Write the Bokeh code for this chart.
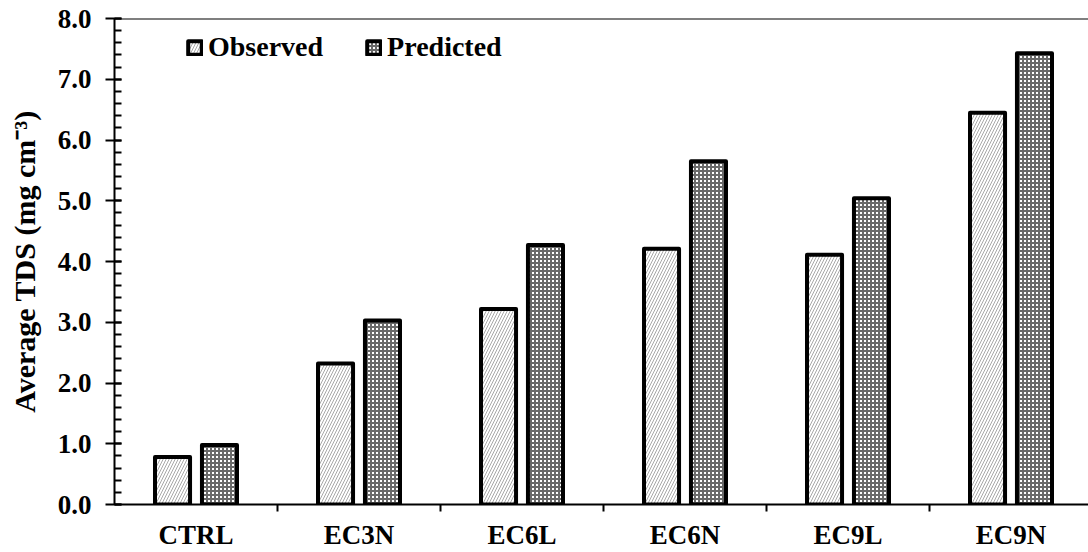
from bokeh.plotting import figure
from bokeh.models import (ColumnDataSource, FixedTicker, PrintfTickFormatter, Span,
                          Legend, LegendItem, Range1d)
from bokeh.embed import file_html
from bokeh.resources import INLINE

categories = ["CTRL", "EC3N", "EC6L", "EC6N", "EC9L", "EC9N"]
observed = [0.78, 2.32, 3.22, 4.21, 4.11, 6.45]
predicted = [0.98, 3.03, 4.27, 5.65, 5.04, 7.43]
y_ticks = [0, 1, 2, 3, 4, 5, 6, 7, 8]

FONT = "Liberation Serif"
centers = [i + 0.5 for i in range(len(categories))]
off = 0.144
bw = 0.215

src = ColumnDataSource(dict(
    xo=[c - off for c in centers], xp=[c + off for c in centers],
    obs=observed, pred=predicted))

p = figure(frame_width=974, frame_height=486, output_backend="svg", toolbar_location=None,
           x_range=Range1d(0, 974 / 163.0), y_range=Range1d(0, 8),
           min_border_left=114, min_border_top=18, min_border_right=0, min_border_bottom=44)
p.outline_line_color = None
p.xgrid.visible = False
p.ygrid.visible = False
p.background_fill_color = "white"

ro = p.vbar(x="xo", top="obs", width=bw, source=src, fill_color="white",
            hatch_pattern="/", hatch_color="#a8a8a8", hatch_scale=6, hatch_weight=1,
            line_color="black", line_width=4, line_join="round")
rp = p.vbar(x="xp", top="pred", width=bw, source=src, fill_color="white",
            hatch_pattern="+", hatch_color="#6a6a6a", hatch_scale=4, hatch_weight=2,
            line_color="black", line_width=4, line_join="round")

# top line
p.add_layout(Span(location=8, dimension="width", line_color="black", line_width=2))

# y axis
ya = p.yaxis[0]
ya.ticker = FixedTicker(ticks=y_ticks, minor_ticks=[i * 0.2 for i in range(41)])
ya.formatter = PrintfTickFormatter(format="%.1f")
ya.axis_line_width = 2
ya.major_tick_line_width = 2
ya.minor_tick_line_width = 2
ya.major_tick_out = 9
ya.major_tick_in = 7
ya.minor_tick_out = 0
ya.minor_tick_in = 7
ya.major_label_standoff = 14
ya.major_label_text_font = FONT
ya.major_label_text_font_style = "bold"
ya.major_label_text_font_size = "27px"
ya.major_label_text_color = "black"
ya.axis_label = "Average TDS (mg cm\u207b\u00b3)"
ya.axis_label_text_font = FONT
ya.axis_label_text_font_style = "bold"
ya.axis_label_text_font_size = "30px"
ya.axis_label_text_color = "black"
ya.axis_label_standoff = 14

# x axis
xa = p.xaxis[0]
xa.ticker = FixedTicker(ticks=centers, minor_ticks=[1, 2, 3, 4, 5])
xa.major_label_overrides = {c: lab for c, lab in zip(centers, categories)}
xa.axis_line_width = 2
xa.major_tick_out = 0
xa.major_tick_in = 0
xa.major_tick_line_color = None
xa.minor_tick_out = 7
xa.minor_tick_in = 0
xa.minor_tick_line_width = 2
xa.major_label_standoff = 8
xa.major_label_text_font = FONT
xa.major_label_text_font_style = "bold"
xa.major_label_text_font_size = "27px"
xa.major_label_text_color = "black"

legend = Legend(items=[LegendItem(label="Observed", renderers=[ro]),
                       LegendItem(label="Predicted", renderers=[rp])],
                orientation="horizontal", location=(72, 441),
                glyph_width=17, glyph_height=17, label_standoff=5, spacing=42,
                padding=0, margin=0, border_line_color=None, background_fill_alpha=0,
                label_text_font=FONT, label_text_font_style="bold",
                label_text_font_size="28px", label_text_color="black")
p.add_layout(legend)

open("out.html", "w").write(file_html(p, INLINE))
